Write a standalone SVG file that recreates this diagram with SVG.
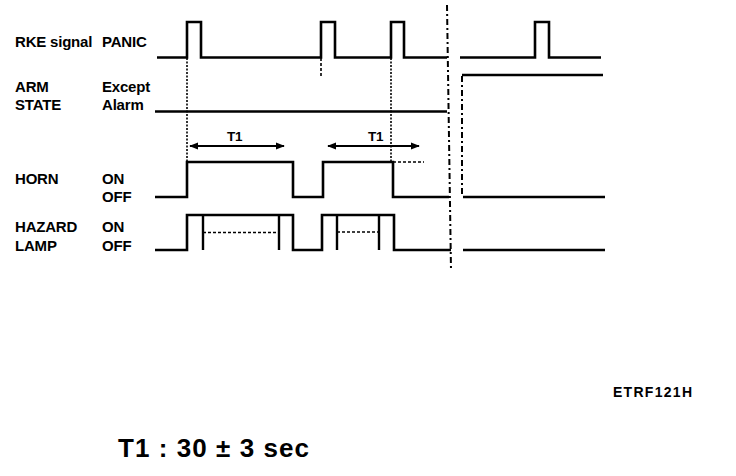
<svg xmlns="http://www.w3.org/2000/svg" width="736" height="476" viewBox="0 0 736 476">
<defs>
<style>
.lbl{font-family:"Liberation Sans",Arial,sans-serif;font-weight:bold;font-size:15px;fill:#000;letter-spacing:-0.2px}
.sig{fill:none;stroke:#000;stroke-width:2.6;stroke-linejoin:miter}
.thin{fill:none;stroke:#000;stroke-width:2.4}
.dot{fill:none;stroke:#000;stroke-width:1.6;stroke-dasharray:2 1.5}
.dash{fill:none;stroke:#000;stroke-width:1.6;stroke-dasharray:3 2}
.dd{fill:none;stroke:#000;stroke-width:2;stroke-dasharray:6 3 2 3}
.arr{fill:none;stroke:#000;stroke-width:2;marker-start:url(#ah);marker-end:url(#ah)}
</style>
<marker id="ah" viewBox="0 0 10 10" refX="9" refY="5" markerWidth="4.5" markerHeight="4.5" orient="auto-start-reverse" markerUnits="strokeWidth">
<path d="M0,1 L10,5 L0,9 z" fill="#000"/>
</marker>
</defs>
<rect width="736" height="476" fill="#fff"/>
<g id="labels">
<text class="lbl" x="15" y="47">RKE signal</text>
<text class="lbl" x="102" y="47">PANIC</text>
<text class="lbl" x="15" y="92">ARM</text>
<text class="lbl" x="102" y="92">Except</text>
<text class="lbl" x="15" y="110">STATE</text>
<text class="lbl" x="102" y="110">Alarm</text>
<text class="lbl" x="15" y="184">HORN</text>
<text class="lbl" x="102" y="184">ON</text>
<text class="lbl" x="102" y="202">OFF</text>
<text class="lbl" x="15" y="232">HAZARD</text>
<text class="lbl" x="102" y="232">ON</text>
<text class="lbl" x="15" y="251">LAMP</text>
<text class="lbl" x="102" y="251">OFF</text>
</g>
<g id="rke">
<path class="sig" d="M157,57.5 H187 V22 H201 V57.5 H321 V22 H335 V57.5 H391 V22 H404 V57.5 H447"/>
<path class="sig" d="M460,57.5 H535 V22 H549 V57.5 H601"/>
</g>
<g id="arm">
<path class="sig" d="M155,111.5 H447"/>
<path class="sig" d="M462,75 H603"/>
</g>
<g id="horn">
<path class="sig" d="M155,197 H187 V162 H293 V197 H323 V162 H393 V197 H449"/>
<path class="sig" d="M463,197 H605"/>
</g>
<g id="hazard">
<path class="sig" d="M155,250 H187 V215 H293 V250 H322 V215 H394 V250 H451"/>
<path class="thin" d="M203,215 V250 M279,215 V250 M337,215 V250 M379,215 V250"/>
<path class="dash" d="M203,232.5 H279 M337,232 H379"/>
<path class="sig" d="M463,250 H605"/>
</g>
<g id="connectors">
<path class="dot" d="M187,58 V162"/>
<path class="dot" d="M391,58 V162"/>
<path class="dash" d="M321,58 V77"/>
<path class="dash" d="M393,162 H424"/>
<path class="dd" d="M447,5 L451,270"/>
<path class="dd" d="M462,76 V196"/>
<path class="arr" d="M190,146 H284"/>
<path class="arr" d="M328,146 H419"/>
</g>
<g id="timing-labels">
<text class="lbl" x="227" y="141" style="font-size:13.5px">T1</text>
<text class="lbl" x="368" y="141" style="font-size:13.5px">T1</text>
</g>
<text class="lbl" x="613" y="397" style="font-size:14px;letter-spacing:0" textLength="79">ETRF121H</text>
<text x="118" y="457" font-family="Liberation Sans,Arial,sans-serif" font-size="26" font-weight="bold" textLength="191">T1 : 30 ± 3 sec</text>
</svg>
